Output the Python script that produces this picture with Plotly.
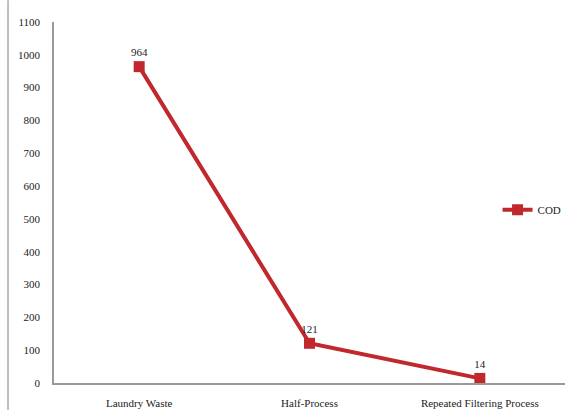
import plotly.graph_objects as go

categories = ["Laundry Waste", "Half-Process", "Repeated Filtering Process"]
cod_values = [964, 121, 14]
y_ticks = [0, 100, 200, 300, 400, 500, 600, 700, 800, 900, 1000, 1100]

color = "#c0282d"
font = dict(family="Liberation Serif, Times New Roman, serif", size=11, color="#222")

fig = go.Figure()
fig.add_trace(go.Scatter(
    x=categories, y=cod_values, name="COD",
    mode="lines+markers+text",
    line=dict(color=color, width=4),
    marker=dict(symbol="square", size=11, color=color),
    text=[str(v) for v in cod_values],
    textposition="top center",
    textfont=dict(family=font["family"], size=11, color="#222"),
))

fig.update_layout(
    width=574, height=415,
    margin=dict(l=54, r=9, t=22, b=32, autoexpand=False),
    paper_bgcolor="white", plot_bgcolor="white",
    font=font,
    showlegend=True,
    legend=dict(x=0.868, y=0.48, xanchor="left", yanchor="middle",
                bgcolor="rgba(0,0,0,0)", font=dict(size=11),
                itemwidth=30),
    shapes=[dict(type="line", xref="paper", yref="paper",
                 x0=-0.09, x1=-0.09, y0=1.06, y1=-0.075,
                 line=dict(color="#aaa", width=1.5))],
)
fig.update_xaxes(type="category", range=[-0.5, 2.5], showline=True,
                 linecolor="#999", linewidth=1.5, ticks="", showgrid=False,
                 tickfont=font, ticklabelstandoff=9, automargin=False)
fig.update_yaxes(range=[0, 1100], tickvals=y_ticks, showline=True,
                 linecolor="#999", linewidth=1.5, ticks="", showgrid=False,
                 zeroline=False, tickfont=font, ticklabelstandoff=10,
                 automargin=False)

fig.write_html("out.html")
